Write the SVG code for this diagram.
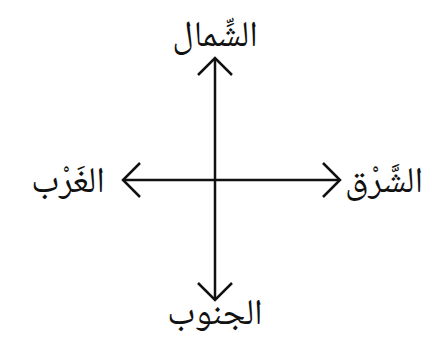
<svg xmlns="http://www.w3.org/2000/svg" width="427" height="349" viewBox="0 0 427 349">
<style>
.lbl{font-family:"Noto Naskh Arabic","Noto Sans Arabic","DejaVu Sans",serif;font-size:36px;fill:#111;text-anchor:middle}
.ax{stroke:#111;stroke-width:2.5;fill:none}
</style>
<defs>
<marker id="v" viewBox="-20 -20 24 40" markerWidth="24" markerHeight="40" refX="0" refY="0" orient="auto" markerUnits="userSpaceOnUse">
<path d="M-17,-17 L0,0 L-17,17" fill="none" stroke="#111" stroke-width="2.5"/>
</marker>
</defs>
<rect width="427" height="349" fill="#fff"/>
<g id="connectors">
<line class="ax" x1="215" y1="180" x2="215" y2="58" marker-end="url(#v)"/>
<line class="ax" x1="215" y1="180" x2="215" y2="300" marker-end="url(#v)"/>
<line class="ax" x1="215" y1="180" x2="123" y2="180" marker-end="url(#v)"/>
<line class="ax" x1="215" y1="180" x2="340" y2="180" marker-end="url(#v)"/>
</g>
<g id="north"><text class="lbl" x="215" y="46">الشِّمال</text></g>
<g id="west"><text class="lbl" x="68" y="192">الغَرْب</text></g>
<g id="east"><text class="lbl" x="384" y="192">الشَّرْق</text></g>
<g id="south"><text class="lbl" x="215" y="324">الجنوب</text></g>
</svg>
